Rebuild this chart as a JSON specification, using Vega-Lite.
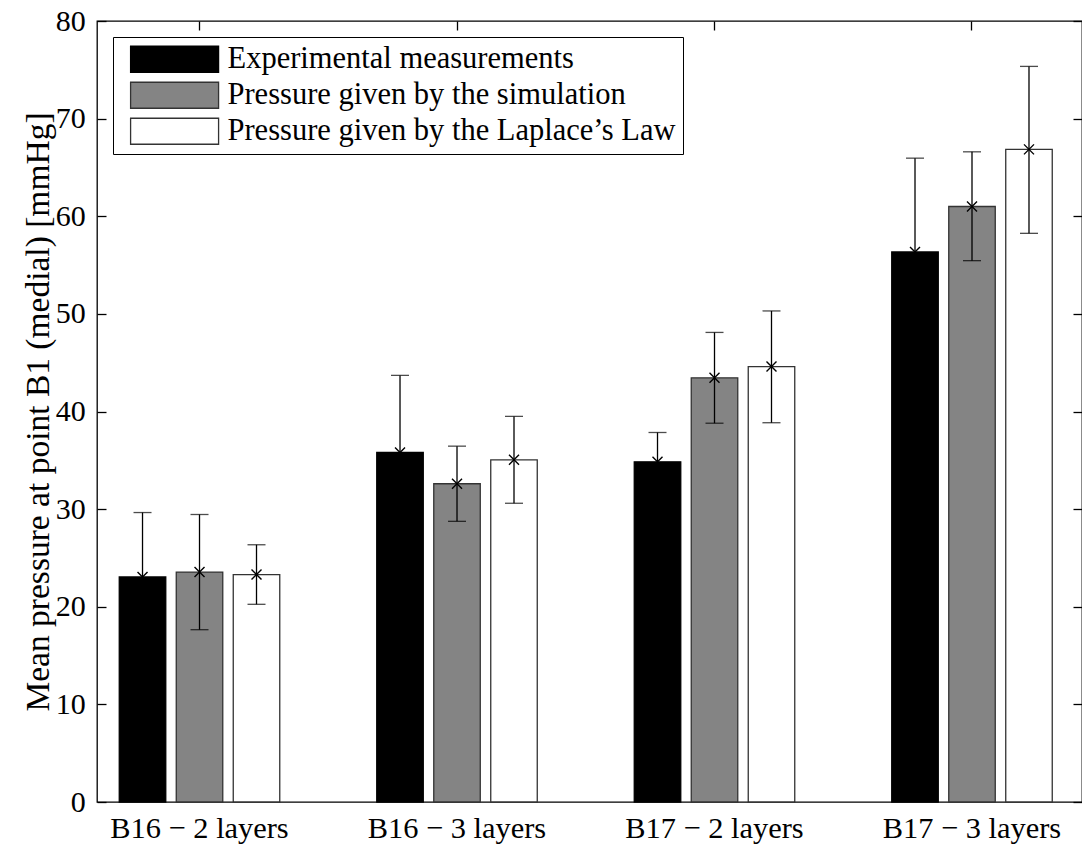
{
  "$schema": "https://vega.github.io/schema/vega-lite/v6.json",
  "width": 985,
  "height": 781,
  "autosize": {"type": "none"},
  "padding": {"left": 97, "top": 21, "right": 0, "bottom": 46},
  "background": "white",
  "config": {
    "view": {"stroke": "#000", "strokeWidth": 1.3},
    "font": "Liberation Serif",
    "axis": {"labelFont": "Liberation Serif", "titleFont": "Liberation Serif", "grid": false}
  },
  "data": {
    "values": [
      {"group": "B16 − 2 layers", "series": "Experimental measurements", "value": 23.05, "lo": 16.45, "hi": 29.65},
      {"group": "B16 − 2 layers", "series": "Pressure given by the simulation", "value": 23.55, "lo": 17.65, "hi": 29.45},
      {"group": "B16 − 2 layers", "series": "Pressure given by the Laplace’s Law", "value": 23.3, "lo": 20.25, "hi": 26.35},
      {"group": "B16 − 3 layers", "series": "Experimental measurements", "value": 35.8, "lo": 27.9, "hi": 43.7},
      {"group": "B16 − 3 layers", "series": "Pressure given by the simulation", "value": 32.6, "lo": 28.75, "hi": 36.45},
      {"group": "B16 − 3 layers", "series": "Pressure given by the Laplace’s Law", "value": 35.05, "lo": 30.6, "hi": 39.5},
      {"group": "B17 − 2 layers", "series": "Experimental measurements", "value": 34.85, "lo": 31.85, "hi": 37.85},
      {"group": "B17 − 2 layers", "series": "Pressure given by the simulation", "value": 43.45, "lo": 38.8, "hi": 48.1},
      {"group": "B17 − 2 layers", "series": "Pressure given by the Laplace’s Law", "value": 44.6, "lo": 38.85, "hi": 50.3},
      {"group": "B17 − 3 layers", "series": "Experimental measurements", "value": 56.35, "lo": 46.75, "hi": 65.95},
      {"group": "B17 − 3 layers", "series": "Pressure given by the simulation", "value": 61.0, "lo": 55.45, "hi": 66.6},
      {"group": "B17 − 3 layers", "series": "Pressure given by the Laplace’s Law", "value": 66.85, "lo": 58.25, "hi": 75.35}
    ]
  },
  "layer": [
    {
      "mark": {"type": "bar", "strokeWidth": 1.3},
      "encoding": {
        "x": {
          "field": "group", "type": "nominal",
          "scale": {"paddingInner": 0.3767, "paddingOuter": 0.101, "align": 0.428},
          "axis": {"orient": "bottom", "title": null, "ticks": false, "domain": false, "labelAngle": 0, "labelFontSize": 30.4, "labelColor": "#000", "labelBaseline": "alphabetic", "labelPadding": 35.5}
        },
        "xOffset": {
          "field": "series", "type": "nominal",
          "sort": ["Experimental measurements", "Pressure given by the simulation", "Pressure given by the Laplace’s Law"],
          "scale": {"paddingInner": 0.184, "paddingOuter": 0}
        },
        "y": {
          "field": "value", "type": "quantitative",
          "scale": {"domain": [0, 80], "nice": false},
          "axis": {"orient": "left", "title": "Mean pressure at point B1 (medial) [mmHg]", "values": [0, 10, 20, 30, 40, 50, 60, 70, 80], "tickSize": -9, "tickColor": "#000", "tickWidth": 1.3, "domain": false, "labelFontSize": 30, "labelColor": "#000", "labelPadding": 20.7, "titleFontSize": 33.5, "titleFontWeight": "normal", "titleColor": "#000", "titleX": -49, "titleY": 390.5, "titleAngle": -90, "titleBaseline": "alphabetic", "titleAlign": "center"}
        },
        "fill": {
          "field": "series", "type": "nominal",
          "sort": ["Experimental measurements", "Pressure given by the simulation", "Pressure given by the Laplace’s Law"],
          "scale": {"domain": ["Experimental measurements", "Pressure given by the simulation", "Pressure given by the Laplace’s Law"], "range": ["#000000", "#848484", "#ffffff"]},
          "legend": {
            "orient": "none", "legendX": 16, "legendY": 16, "title": null,
            "strokeColor": "#000", "fillColor": "#fff", "padding": 7,
            "symbolType": "M-0.358,-1H6.41V1H-0.358Z", "symbolSize": 676,
            "symbolStrokeColor": "#333", "symbolStrokeWidth": 1.3, "symbolOpacity": 1,
            "labelFontSize": 30.5, "labelFont": "Liberation Serif", "labelColor": "#000",
            "labelOffset": 77, "rowPadding": 4, "labelLimit": 800
          }
        },
        "stroke": {
          "field": "series", "type": "nominal",
          "scale": {"domain": ["Experimental measurements", "Pressure given by the simulation", "Pressure given by the Laplace’s Law"], "range": ["#000000", "#333333", "#333333"]},
          "legend": null
        }
      }
    },
    {
      "mark": {"type": "rule", "color": "#000", "strokeWidth": 1.3},
      "encoding": {
        "x": {
          "field": "group", "type": "nominal",
          "axis": {"orient": "top", "title": null, "labels": false, "ticks": true, "tickSize": -9, "tickColor": "#000", "tickWidth": 1.3, "domain": false}
        },
        "xOffset": {"field": "series", "type": "nominal", "sort": ["Experimental measurements", "Pressure given by the simulation", "Pressure given by the Laplace’s Law"]},
        "y": {
          "field": "lo", "type": "quantitative",
          "scale": {"domain": [0, 80], "nice": false},
          "axis": {"orient": "right", "title": null, "labels": false, "values": [0, 10, 20, 30, 40, 50, 60, 70, 80], "tickSize": -9, "tickColor": "#000", "tickWidth": 1.3, "domain": false}
        },
        "y2": {"field": "hi"}
      }
    },
    {
      "mark": {"type": "tick", "color": "#000", "thickness": 1.3, "size": 18},
      "encoding": {
        "x": {"field": "group", "type": "nominal", "axis": null},
        "xOffset": {"field": "series", "type": "nominal", "sort": ["Experimental measurements", "Pressure given by the simulation", "Pressure given by the Laplace’s Law"]},
        "y": {"field": "hi", "type": "quantitative", "scale": {"domain": [0, 80], "nice": false}, "axis": null}
      }
    },
    {
      "mark": {"type": "tick", "color": "#000", "thickness": 1.3, "size": 18},
      "encoding": {
        "x": {"field": "group", "type": "nominal", "axis": null},
        "xOffset": {"field": "series", "type": "nominal", "sort": ["Experimental measurements", "Pressure given by the simulation", "Pressure given by the Laplace’s Law"]},
        "y": {"field": "lo", "type": "quantitative", "scale": {"domain": [0, 80], "nice": false}, "axis": null}
      }
    },
    {
      "mark": {"type": "point", "shape": "M-1,-1L1,1M-1,1L1,-1", "size": 100, "filled": false, "stroke": "#000", "strokeWidth": 1.4, "opacity": 1},
      "encoding": {
        "x": {"field": "group", "type": "nominal", "axis": null},
        "xOffset": {"field": "series", "type": "nominal", "sort": ["Experimental measurements", "Pressure given by the simulation", "Pressure given by the Laplace’s Law"]},
        "y": {"field": "value", "type": "quantitative", "scale": {"domain": [0, 80], "nice": false}, "axis": null}
      }
    }
  ],
  "resolve": {"axis": {"x": "independent", "y": "independent"}}
}
